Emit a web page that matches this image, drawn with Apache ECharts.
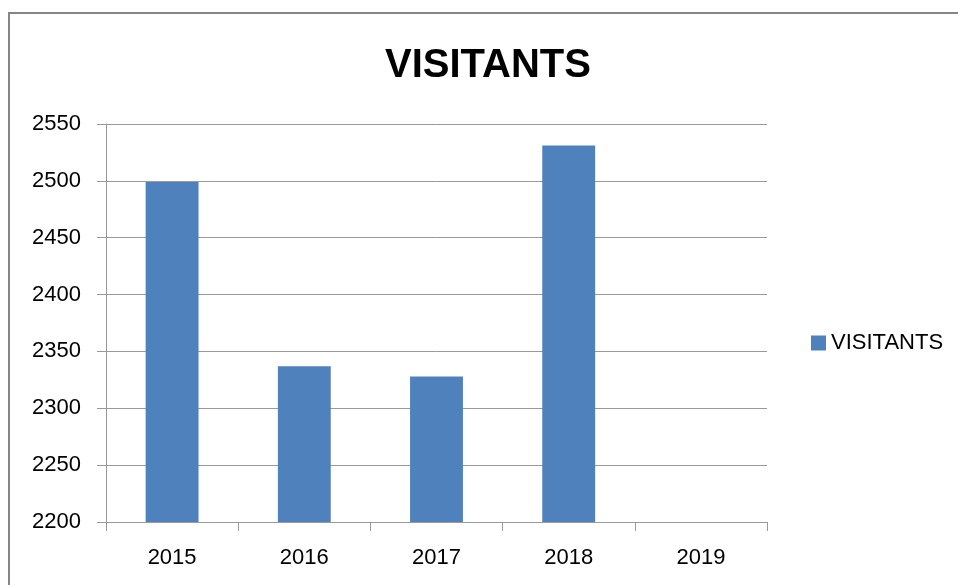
<!DOCTYPE html>
<html>
<head>
<meta charset="utf-8">
<script src="https://cdn.jsdelivr.net/npm/echarts@6/dist/echarts.min.js"></script>
<style>
html,body{margin:0;padding:0;background:#fff;}
#chart{width:958px;height:585px;}
</style>
</head>
<body>
<div id="chart"></div>
<script>
var categories = ['2015', '2016', '2017', '2018', '2019'];
var visitants = [2499, 2337, 2328, 2531, null];
var yMin = 2200, yMax = 2550, yStep = 50;

var chart = echarts.init(document.getElementById('chart'));
var font = '"Liberation Sans", Arial, sans-serif';
chart.setOption({
  animation: false,
  backgroundColor: '#ffffff',
  graphic: [{
    type: 'rect',
    shape: {x: 9, y: 13, width: 2000, height: 2000},
    style: {fill: 'none', stroke: '#868686', lineWidth: 2},
    silent: true
  }],
  title: {
    text: 'VISITANTS',
    left: 385,
    top: 46,
    textStyle: {fontFamily: font, fontSize: 40, fontWeight: 'bold', color: '#000'},
    padding: 0
  },
  legend: {
    data: ['VISITANTS'],
    left: 811,
    top: 332,
    orient: 'vertical',
    itemWidth: 15,
    itemHeight: 15,
    icon: 'rect',
    textStyle: {fontFamily: font, fontSize: 22, color: '#000'},
    padding: 0
  },
  grid: {left: 106, right: 191, top: 124, bottom: 63},
  xAxis: {
    type: 'category',
    data: categories,
    axisLine: {lineStyle: {color: '#999999', width: 1}},
    axisTick: {show: true, length: 9, lineStyle: {color: '#999999'}},
    axisLabel: {fontFamily: font, fontSize: 22, color: '#000', margin: 25}
  },
  yAxis: {
    type: 'value',
    min: yMin,
    max: yMax,
    interval: yStep,
    axisLine: {show: true, lineStyle: {color: '#999999', width: 1}},
    axisTick: {show: true, length: 9, lineStyle: {color: '#999999'}},
    splitLine: {lineStyle: {color: '#999999', width: 1}},
    axisLabel: {fontFamily: font, fontSize: 22, color: '#000', margin: 25,
      formatter: function (v) { return String(v); }}
  },
  series: [{
    name: 'VISITANTS',
    type: 'bar',
    data: visitants,
    barWidth: '40%',
    itemStyle: {color: '#4f81bd'}
  }]
});
</script>
</body>
</html>
